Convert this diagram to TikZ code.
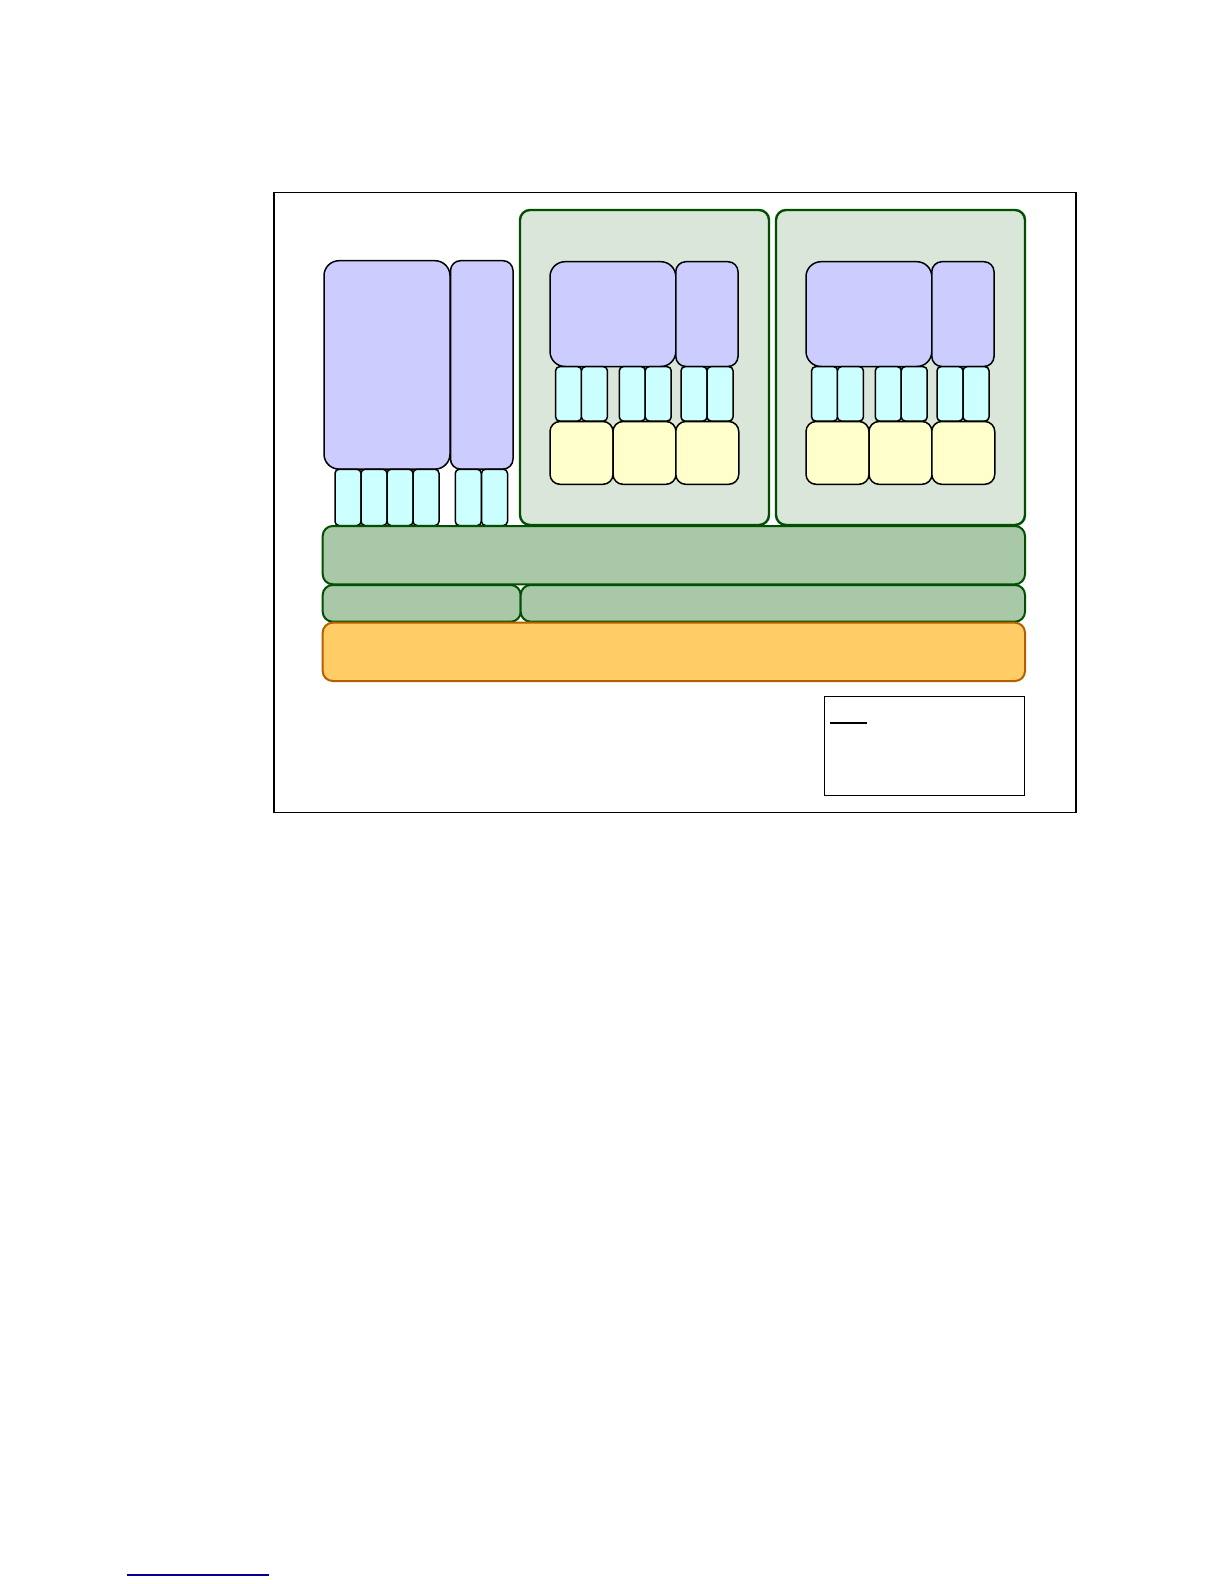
\documentclass[tikz,border=0pt]{standalone}
\usepackage{tikz}
\definecolor{cpublue}{RGB}{204,204,255}
\definecolor{lanecyan}{RGB}{204,255,255}
\definecolor{memyellow}{RGB}{255,255,204}
\definecolor{panelgreen}{RGB}{218,230,218}
\definecolor{busgreen}{RGB}{168,200,168}
\definecolor{nodegreen}{RGB}{0,80,0}
\definecolor{fworange}{RGB}{255,204,102}
\definecolor{fwbrown}{RGB}{180,95,0}
\definecolor{footblue}{RGB}{0,0,150}
\tikzset{
  plainbox/.style={draw=black, line width=0.75pt, inner sep=0pt},
  cpu/.style={draw=black, fill=cpublue, line width=0.75pt, rounded corners=5pt, inner sep=0pt},
  lane/.style={draw=black, fill=lanecyan, line width=0.75pt, rounded corners=2pt, inner sep=0pt, minimum width=13pt, minimum height=#1},
  lane/.default=27.15pt,
  mem/.style={draw=black, fill=memyellow, line width=0.75pt, rounded corners=5pt, inner sep=0pt, minimum width=31.5pt, minimum height=31.4pt},
  panel/.style={draw=nodegreen, fill=panelgreen, line width=1.2pt, rounded corners=5pt, inner sep=0pt, minimum width=124.5pt, minimum height=157.5pt},
  busbar/.style={draw=nodegreen, fill=busgreen, line width=1pt, rounded corners=5pt, inner sep=0pt},
  fwbar/.style={draw=fwbrown, fill=fworange, line width=1pt, rounded corners=5pt, inner sep=0pt}
}

\begin{document}
\begin{tikzpicture}[x=0.5pt,y=-0.5pt]
\useasboundingbox (0,0) rectangle (1224,1584);
\node[plainbox, minimum width=401pt, minimum height=309.8pt] (board) at (675,502.5) {};

% compute nodes
\node[panel] (node1) at (644.5,367.5) {};
\node[panel] (node2) at (900.5,367.5) {};

% host side
\node[cpu, rounded corners=7.5pt, minimum width=63pt, minimum height=104.2pt] (host-cpu) at (387,364.9) {};
\node[cpu, minimum width=31.25pt, minimum height=104.2pt] (host-acc) at (481.75,364.9) {};
\node[lane=28.1pt] (host-l1) at (348,497.4) {};
\node[lane=28.1pt] (host-l2) at (374,497.4) {};
\node[lane=28.1pt] (host-l3) at (400,497.4) {};
\node[lane=28.1pt] (host-l4) at (426,497.4) {};
\node[lane=28.1pt] (host-l5) at (468.3,497.4) {};
\node[lane=28.1pt] (host-l6) at (494.5,497.4) {};

% node 1
\node[cpu, rounded corners=7.5pt, minimum width=62.9pt, minimum height=52.4pt] (n1-cpu) at (612.9,314.1) {};
\node[cpu, minimum width=31.1pt, minimum height=52.4pt] (n1-acc) at (706.9,314.1) {};
\node[lane] (n1-l1) at (568.6,393.85) {};
\node[lane] (n1-l2) at (594.4,393.85) {};
\node[lane] (n1-l3) at (632.3,393.85) {};
\node[lane] (n1-l4) at (658.2,393.85) {};
\node[lane] (n1-l5) at (694,393.85) {};
\node[lane] (n1-l6) at (720,393.85) {};
\node[mem] (n1-m1) at (581.5,452.9) {};
\node[mem] (n1-m2) at (644.5,452.9) {};
\node[mem] (n1-m3) at (707.25,452.9) {};

% node 2
\node[cpu, rounded corners=7.5pt, minimum width=62.9pt, minimum height=52.4pt] (n2-cpu) at (868.9,314.1) {};
\node[cpu, minimum width=31.1pt, minimum height=52.4pt] (n2-acc) at (962.9,314.1) {};
\node[lane] (n2-l1) at (824.6,393.85) {};
\node[lane] (n2-l2) at (850.4,393.85) {};
\node[lane] (n2-l3) at (888.3,393.85) {};
\node[lane] (n2-l4) at (914.2,393.85) {};
\node[lane] (n2-l5) at (950,393.85) {};
\node[lane] (n2-l6) at (976,393.85) {};
\node[mem] (n2-m1) at (837.5,452.9) {};
\node[mem] (n2-m2) at (900.5,452.9) {};
\node[mem] (n2-m3) at (963.25,452.9) {};

% layers underneath
\node[busbar, minimum width=351.15pt, minimum height=29.15pt] (fabric) at (673.85,555.15) {};
\node[busbar, minimum width=99pt, minimum height=18.35pt] (svc-l) at (421.7,603.35) {};
\node[busbar, minimum width=252.15pt, minimum height=18.35pt] (svc-r) at (772.85,603.35) {};
\node[fwbar, minimum width=351.15pt, minimum height=29.15pt] (firmware) at (673.85,651.85) {};

% legend
\node[plainbox, fill=white, minimum width=100pt, minimum height=49.3pt] (legend) at (924.3,746) {};
\coordinate (key-a) at (830,722.7);
\coordinate (key-b) at (866.7,722.7);
\draw[line width=1pt] (key-a) -- (key-b);

% footnote rule
\coordinate (foot-a) at (127,1575);
\coordinate (foot-b) at (269,1575);
\draw[footblue, line width=0.75pt] (foot-a) -- (foot-b);
\end{tikzpicture}
\end{document}
